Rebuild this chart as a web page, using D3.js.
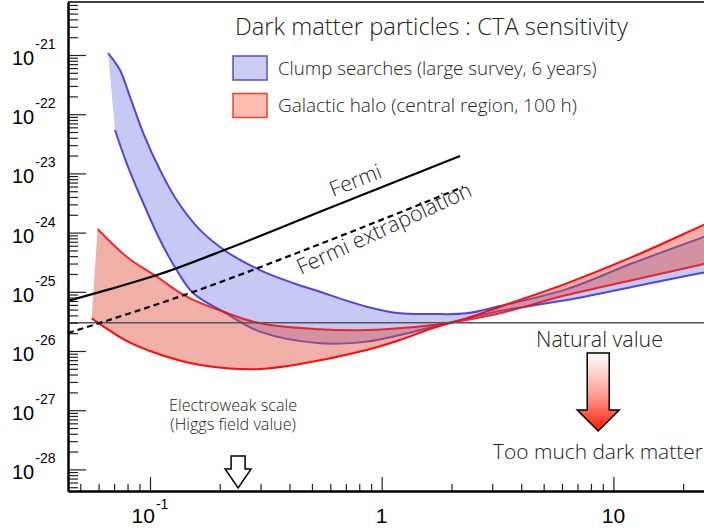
<!DOCTYPE html>
<html><head><meta charset="utf-8">
<script src="https://cdn.jsdelivr.net/npm/d3@7"></script>
<style>
body{margin:0;background:#fff;}
svg{display:block;}
.lbl{font-family:"Open Sans","Noto Sans",sans-serif;font-weight:300;fill:#222;}
.tick-lbl{font-family:"Liberation Sans",Arial,sans-serif;fill:#000;}
</style></head>
<body>
<svg id="c" width="704" height="531"></svg>
<script>
// ---------------- data ----------------
// Clump searches (large survey, 6 years): band edges
const clumpUpperE = [0.0659,0.0742,0.0819,0.0936,0.1105,0.1303,0.1644,0.2143,0.2983,0.414,0.5416,0.8616,1.2,1.665,2.328,3.24,6.29,12.15,23.6,26.6];
const clumpUpperS = [1.08e-21,5.58e-22,1.98e-22,4.76e-23,1.14e-23,3.56e-24,1.11e-24,4.75e-25,2.33e-25,1.41e-25,1.0e-25,5.6e-26,4.33e-26,4.21e-26,4.33e-26,5.75e-26,1.11e-25,3.06e-25,8.0e-25,9.5e-25];
const clumpLowerE = [0.0706,0.0793,0.0936,0.1105,0.1303,0.1538,0.2072,0.2983,0.5416,0.8616,1.2,1.665,2.328,3.24,6.29,12.15,23.6,26.6];
const clumpLowerS = [5.41e-23,1.48e-23,3.13e-24,7.5e-25,2.33e-25,9.44e-26,4.61e-26,2.12e-26,1.35e-26,1.44e-26,1.86e-26,2.57e-26,3.56e-26,4.74e-26,7.26e-26,1.22e-25,2.05e-25,2.25e-25];
// Galactic halo (central region, 100 h): two edges
const haloAE = [0.0594,0.0793,0.1069,0.144,0.2072,0.2983,0.5416,0.8616,1.665,2.328,3.24,6.29,12.15,23.6,26.6];
const haloAS = [1.15e-24,3.92e-25,1.80e-25,8.26e-26,4.61e-26,2.94e-26,2.33e-26,2.26e-26,2.75e-26,3.34e-26,4.33e-26,8.83e-26,1.58e-25,2.84e-25,3.15e-25];
const haloBE = [0.056,0.0793,0.1,0.1488,0.2214,0.2983,0.4441,0.8616,1.2,1.665,2.328,3.24,6.29,12.15,23.6,26.6];
const haloBS = [3.56e-26,1.48e-26,1.0e-26,6.27e-27,5.06e-27,4.96e-27,6.03e-27,1.04e-26,1.53e-26,2.45e-26,3.56e-26,5.6e-26,1.39e-25,3.92e-25,1.26e-24,1.55e-24];
// Fermi limit and its extrapolation
const fermiE = [0.04426,0.0672,0.1072,0.2149,0.5416,2.178];
const fermiS = [7.0e-26,1.11e-25,1.92e-25,5.28e-25,2.25e-24,1.97e-23];
const fermiExtE = [0.04426,0.1533,0.5416,2.244];
const fermiExtS = [2.01e-26,9.93e-26,6.41e-25,5.89e-24];
// Natural (thermal relic) value
const naturalValue = 3e-26;
// markers
const electroweakE = 0.24;
const tooMuchE = 8.6;
// tick labels
const xTickValues = [0.1, 1, 10];
const xTickBase = ["10", "1", "10"];
const xTickExp = ["-1", "", ""];
const yTickValues = [1e-21,1e-22,1e-23,1e-24,1e-25,1e-26,1e-27,1e-28];
const yTickExp = ["-21","-22","-23","-24","-25","-26","-27","-28"];
// texts
const titleText = "Dark matter particles : CTA sensitivity";
const legendTexts = ["Clump searches (large survey, 6 years)", "Galactic halo (central region, 100 h)"];
const electroweakLines = ["Electroweak scale", "(Higgs field value)"];

// ---------------- scales ----------------
const svg = d3.select("#c");
const W = 704, padL = 68, padT = 2, padB = 491;
const x = d3.scaleLog().domain([0.1, 10]).range([150, 613.4]);
x.domain([x.invert(padL), x.invert(720)]).range([padL, 720]);
const y = d3.scaleLog().domain([1e-21, 1e-28]).range([55, 469.4]);
y.domain([y.invert(padT), y.invert(padB)]).range([padT, padB]);

const defs = svg.append("defs");
defs.append("clipPath").attr("id","clip").append("rect")
  .attr("x", padL).attr("y", padT).attr("width", W - padL).attr("height", padB - padT);
const grad = defs.append("linearGradient").attr("id","rg").attr("x1",0).attr("y1",0).attr("x2",0).attr("y2",1);
grad.append("stop").attr("offset","0%").attr("stop-color","#ffffff");
grad.append("stop").attr("offset","55%").attr("stop-color","#ff9a90");
grad.append("stop").attr("offset","100%").attr("stop-color","#ff1a00");

const pts = (E, S) => E.map((e, i) => [x(e), y(S[i])]);
const lineGen = d3.line().curve(d3.curveCatmullRom.alpha(0.5));
const smoothGen = d3.line().curve(d3.curveMonotoneX);
function bandPath(upE, upS, loE, loS) {
  const a = lineGen(pts(upE, upS));
  const b = lineGen(pts(loE, loS).reverse());
  return a + "L" + b.slice(1) + "Z";
}

const g = svg.append("g").attr("clip-path", "url(#clip)");

// clump band
g.append("path").attr("d", bandPath(clumpUpperE, clumpUpperS, clumpLowerE, clumpLowerS))
  .attr("fill", "rgb(110,110,225)").attr("fill-opacity", 0.38).attr("stroke", "none");
g.append("path").attr("d", lineGen(pts(clumpUpperE, clumpUpperS))).attr("fill","none").attr("stroke","#4a4ad8").attr("stroke-width",2);
g.append("path").attr("d", lineGen(pts(clumpLowerE, clumpLowerS))).attr("fill","none").attr("stroke","#4a4ad8").attr("stroke-width",2);

// halo band
g.append("path").attr("d", bandPath(haloAE, haloAS, haloBE, haloBS))
  .attr("fill", "rgb(222,80,60)").attr("fill-opacity", 0.45).attr("stroke", "none");
g.append("path").attr("d", lineGen(pts(haloAE, haloAS))).attr("fill","none").attr("stroke","#ee0a14").attr("stroke-opacity",0.85).attr("stroke-width",2);
g.append("path").attr("d", lineGen(pts(haloBE, haloBS))).attr("fill","none").attr("stroke","#ff0a0a").attr("stroke-width",2);

// natural value line
g.append("line").attr("x1", padL).attr("x2", W).attr("y1", y(naturalValue)).attr("y2", y(naturalValue))
  .attr("stroke", "#555").attr("stroke-width", 1.3);

// fermi
g.append("path").attr("d", smoothGen(pts(fermiE, fermiS))).attr("fill","none").attr("stroke","#000").attr("stroke-width",2.2);
g.append("path").attr("d", smoothGen(pts(fermiExtE, fermiExtS))).attr("fill","none").attr("stroke","#000").attr("stroke-width",2.2).attr("stroke-dasharray","6,4");

// ---------------- axes ----------------
function logTicks(lo, hi) {
  const out = [];
  for (let k = Math.floor(Math.log10(lo)); k <= Math.ceil(Math.log10(hi)); k++)
    for (let m = 1; m <= 9; m++) { const v = m * Math.pow(10, k); if (v >= lo && v <= hi) out.push(v); }
  return out;
}
const isMajor = v => Math.abs(Math.log10(v) - Math.round(Math.log10(v))) < 1e-9;
const yAll = logTicks(y.domain()[1], y.domain()[0]);
const yMajor = yAll.filter(isMajor), yMinor = yAll.filter(v => !isMajor(v));
const xAll = logTicks(x.domain()[0], x.invert(W));
const xMajor = xAll.filter(isMajor), xMinor = xAll.filter(v => !isMajor(v));

const yAxG = svg.append("g").attr("transform", `translate(${padL},0)`);
yAxG.append("g").call(d3.axisLeft(y).tickValues(yMinor).tickSizeInner(-10).tickSizeOuter(0).tickFormat(""));
yAxG.append("g").call(d3.axisLeft(y).tickValues(yMajor).tickSizeInner(-18).tickSizeOuter(0).tickFormat(""));
const xAxG = svg.append("g").attr("transform", `translate(0,${padB})`);
xAxG.append("g").call(d3.axisBottom(x).tickValues(xMinor).tickSizeInner(-7).tickSizeOuter(0).tickFormat(""));
xAxG.append("g").call(d3.axisBottom(x).tickValues(xMajor).tickSizeInner(-14).tickSizeOuter(0).tickFormat(""));
svg.selectAll(".domain").attr("stroke","#000").attr("stroke-width",2);
svg.selectAll(".tick line").attr("stroke","#222").attr("stroke-width",1.2);
svg.append("line").attr("x1", padL).attr("x2", W).attr("y1", padT).attr("y2", padT).attr("stroke","#000").attr("stroke-width",1.5);

// y tick labels
yTickValues.forEach((v, i) => {
  const t = svg.append("text").attr("class","tick-lbl").attr("x", 12).attr("y", y(v) + 10).attr("font-size", 20);
  t.append("tspan").text("10");
  t.append("tspan").attr("font-size", 14).attr("dy", -16).attr("dx", 1).text(yTickExp[i]);
});
// x tick labels
xTickValues.forEach((v, i) => {
  const t = svg.append("text").attr("class","tick-lbl").attr("x", x(v)).attr("y", 523).attr("font-size", 21).attr("text-anchor","middle");
  t.append("tspan").text(xTickBase[i]);
  if (xTickExp[i]) t.append("tspan").attr("font-size", 14).attr("dy", -14).attr("dx", 1).text(xTickExp[i]);
});

// ---------------- annotations ----------------
function fitText(sel, target) {
  const w = sel.node().getComputedTextLength();
  const fs = parseFloat(sel.attr("font-size"));
  if (w > 0) sel.attr("font-size", fs * target / w);
  return sel;
}
fitText(svg.append("text").attr("class","lbl").attr("x",235).attr("y",35).attr("font-size",21).text(titleText), 393);

// legend
svg.append("rect").attr("x",233).attr("y",56).attr("width",34).attr("height",24)
  .attr("fill","#cdcdf3").attr("stroke","#5050dc").attr("stroke-width",1.5);
svg.append("rect").attr("x",233).attr("y",93.5).attr("width",34).attr("height",24)
  .attr("fill","#fdbcb2").attr("stroke","#f04028").attr("stroke-width",1.5);
fitText(svg.append("text").attr("class","lbl").attr("x",278).attr("y",75).attr("font-size",18).text(legendTexts[0]), 319);
fitText(svg.append("text").attr("class","lbl").attr("x",278).attr("y",112).attr("font-size",18).text(legendTexts[1]), 299);

// Fermi labels
fitText(svg.append("text").attr("class","lbl").attr("font-size",20)
  .attr("transform","translate(333,197) rotate(-21.5)").text("Fermi"), 54);
fitText(svg.append("text").attr("class","lbl").attr("font-size",20)
  .attr("transform","translate(301,275) rotate(-24.8)").text("Fermi extrapolation"), 190);

// natural value
fitText(svg.append("text").attr("class","lbl").attr("x",536).attr("y",347).attr("font-size",20).text("Natural value"), 127);
// red arrow
const ax = x(tooMuchE);
const arrowPath = `M${ax-11},353 L${ax+11},353 L${ax+11},410 L${ax+21},410 L${ax},431 L${ax-21},410 L${ax-11},410 Z`;
svg.append("path").attr("d", arrowPath).attr("fill","url(#rg)").attr("stroke","#000").attr("stroke-width",1.5);
fitText(svg.append("text").attr("class","lbl").attr("x",493).attr("y",459).attr("font-size",22).text("Too much dark matter"), 210);

// electroweak (two lines in one text)
const ex = x(electroweakE);
const ew = svg.append("text").attr("class","lbl").attr("font-size",14).attr("text-anchor","middle");
const ew1 = ew.append("tspan").attr("x", ex - 5).attr("y", 411).text(electroweakLines[0]);
ew.append("tspan").attr("x", ex - 5).attr("y", 430).text(electroweakLines[1]);
const w1 = ew1.node().getComputedTextLength();
if (w1 > 0) ew.attr("font-size", 14 * 128 / w1);
const hp = `M${ex-7},456 L${ex+7},456 L${ex+7},469 L${ex+13},469 L${ex},488 L${ex-13},469 L${ex-7},469 Z`;
svg.append("path").attr("d", hp).attr("fill","#fff").attr("stroke","#000").attr("stroke-width",1.5);
</script>
</body></html>
